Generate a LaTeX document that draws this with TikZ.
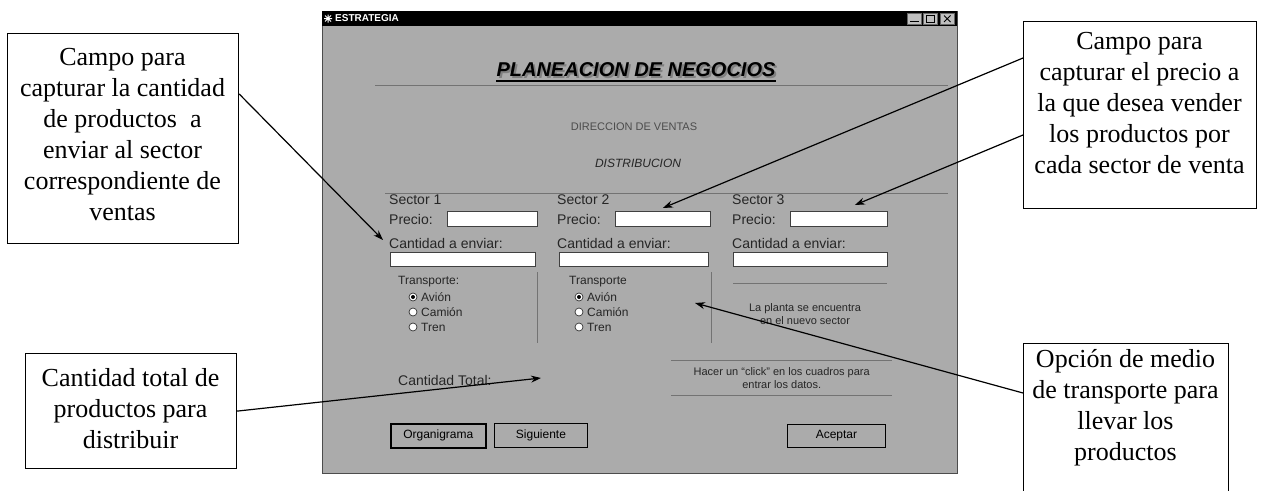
\documentclass[tikz,border=0pt]{standalone}
\usepackage{fontspec}
\setmainfont{Liberation Serif}
\newfontfamily\uifont{Liberation Sans}
\usetikzlibrary{arrows.meta,calc}
\definecolor{dialoggray}{gray}{0.67}
\tikzset{
  callout/.style={draw=black, line width=1.2pt, fill=white, inner sep=0pt, anchor=north west},
  calltext/.style={align=center, font=\fontsize{26}{31}\selectfont, inner sep=0pt},
  pointer/.style={draw=black, line width=1.2pt, -{Stealth[length=10pt,width=7pt]}},
  uitext/.style={font=\uifont\fontsize{14}{16}\selectfont, text=black!85, inner sep=0pt, anchor=west},
  smalltext/.style={font=\uifont\fontsize{11}{13}\selectfont, text=black!85, inner sep=0pt, align=center},
  field/.style={draw=black!75, fill=white, line width=0.8pt, inner sep=0pt, anchor=north west},
  radio/.style={circle, draw=black!80, fill=white, line width=0.7pt, minimum size=8pt, inner sep=0pt},
  uibutton/.style={draw=black, line width=0.9pt, fill=dialoggray, inner sep=0pt, anchor=north west,
    font=\uifont\fontsize{12}{14}\selectfont},
  capbutton/.style={draw=black!60, fill=black!25, line width=0.5pt, inner sep=0pt, anchor=north west,
    minimum width=14pt, minimum height=11pt},
  etched/.style={draw=black!55, line width=0.7pt},
}
\begin{document}
\begin{tikzpicture}[x=1pt,y=-1pt]
\useasboundingbox (0,0) rectangle (1261,490);

% ---------- dialog window ----------
\node[draw=black!70, line width=1pt, fill=dialoggray, minimum width=635pt, minimum height=462pt,
      anchor=north west, inner sep=0pt] (win) at (322,11) {};
\node[fill=black, minimum width=635pt, minimum height=15pt, anchor=north west, inner sep=0pt] (titlebar) at (322,11) {};
\draw[white, line width=1pt] (324,18.5) -- (332,18.5) (328,14.5) -- (328,22.5)
      (325,15.5) -- (331,21.5) (325,21.5) -- (331,15.5);
\node[anchor=west, text=white, font=\uifont\bfseries\fontsize{10}{12}\selectfont, inner sep=0pt] (wintitle) at (335,18.5) {ESTRATEGIA};
\node[capbutton] (bmin) at (907,13) {};
\node[capbutton] (bmax) at (923,13) {};
\node[capbutton] (bclose) at (940,13) {};
\draw[line width=1pt] ($(bmin.south west)+(3,-3)$) -- ($(bmin.south east)+(-3,-3)$);
\draw[line width=0.8pt] ($(bmax.north west)+(3,2.5)$) rectangle ($(bmax.south east)+(-3,-2.5)$);
\draw[line width=1pt] ($(bclose.north west)+(4,2.5)$) -- ($(bclose.south east)+(-4,-2.5)$)
      ($(bclose.south west)+(4,-2.5)$) -- ($(bclose.north east)+(-4,2.5)$);

% heading
\node[font=\uifont\bfseries\itshape\fontsize{20}{22}\selectfont, text=black!50, inner sep=0pt] (headshadow) at (638,72) {PLANEACION DE NEGOCIOS};
\node[font=\uifont\bfseries\itshape\fontsize{20}{22}\selectfont, inner sep=0pt] (heading) at (636,70) {PLANEACION DE NEGOCIOS};
\draw[line width=1.6pt] ($(heading.base west)+(0,4)$) -- ($(heading.base east)+(0,4)$);
\draw[etched] (375,85) -- (948,85);

\node[smalltext, text=black!70] (direccion) at (634,127) {DIRECCION DE VENTAS};
\node[smalltext, font=\uifont\itshape\fontsize{12}{14}\selectfont] (distrib) at (638,163) {DISTRIBUCION};
\draw[etched] (385,193) -- (948,193);

% sector columns
\node[uitext] (s1) at (389,200) {Sector 1};
\node[uitext] (s2) at (557,200) {Sector 2};
\node[uitext] (s3) at (732,200) {Sector 3};
\node[uitext] (pl1) at (389,219) {Precio:};
\node[uitext] (pl2) at (557,219) {Precio:};
\node[uitext] (pl3) at (732,219) {Precio:};
\node[field, minimum width=90pt, minimum height=15pt] (p1) at (447,211) {};
\node[field, minimum width=95pt, minimum height=15pt] (p2) at (615,211) {};
\node[field, minimum width=97pt, minimum height=15pt] (p3) at (790,211) {};
\node[uitext] (c1) at (389,243) {Cantidad a enviar:};
\node[uitext] (c2) at (557,243) {Cantidad a enviar:};
\node[uitext] (c3) at (732,243) {Cantidad a enviar:};
\node[field, minimum width=145pt, minimum height=14pt] (e1) at (390,252) {};
\node[field, minimum width=149pt, minimum height=14pt] (e2) at (559,252) {};
\node[field, minimum width=154pt, minimum height=14pt] (e3) at (733,252) {};

% transport groups
\draw[etched] (537,272) -- (537,343);
\draw[etched] (711,272) -- (711,343);
\draw[etched] (733,283) -- (887,283);
\node[uitext, font=\uifont\fontsize{12}{14}\selectfont] (t1) at (398,282) {Transporte:};
\node[uitext, font=\uifont\fontsize{12}{14}\selectfont] (t2) at (569,282) {Transporte};
\foreach \gx/\g in {413/a, 579/b}{
  \node[radio] (r\g1) at (\gx,297) {};
  \node[radio] (r\g2) at (\gx,312) {};
  \node[radio] (r\g3) at (\gx,327) {};
  \fill[black] (r\g1.center) circle (2pt);
  \node[uitext, font=\uifont\fontsize{12}{14}\selectfont] (la\g1) at (\gx+8,297) {Avión};
  \node[uitext, font=\uifont\fontsize{12}{14}\selectfont] (la\g2) at (\gx+8,312) {Camión};
  \node[uitext, font=\uifont\fontsize{12}{14}\selectfont] (la\g3) at (\gx+8,327) {Tren};
}
\coordinate (transfield) at (695,303);
\node[smalltext] (placa) at (805,314) {La planta se encuentra\\en el nuevo sector};

% totals and hint
\node[uitext] (total) at (398,380) {Cantidad Total:};
\coordinate (totfield) at (541,378);
\node[minimum width=221pt, minimum height=35pt, anchor=north west, inner sep=0pt] (hint) at (671,360) {};
\draw[etched] (hint.north west) -- (hint.north east) (hint.south west) -- (hint.south east);
\node[smalltext] (hinttext) at (hint.center) {Hacer un “click” en los cuadros para\\entrar los datos.};

% buttons
\node[uibutton, line width=1.6pt, minimum width=95pt, minimum height=24pt] (borg) at (390,423) {Organigrama};
\node[uibutton, minimum width=93pt, minimum height=24pt] (bsig) at (494,423) {Siguiente};
\node[uibutton, minimum width=98pt, minimum height=23pt] (bacep) at (787,424) {Aceptar};

% ---------- callouts ----------
\node[callout, minimum width=231pt, minimum height=210pt] (lbox) at (7,33) {};
\node[calltext] (ltext) at (122.5,135) {Campo para\\capturar la cantidad\\de productos\ \ a\\enviar al sector\\correspondiente de\\ventas};

\node[callout, minimum width=233pt, minimum height=187pt] (rbox) at (1023,21) {};
\node[calltext] (rtext) at (1139.5,103) {Campo para\\capturar el precio a\\la que desea vender\\los productos por\\cada sector de venta};

\node[callout, minimum width=211pt, minimum height=115pt] (blbox) at (25,353) {};
\node[calltext] (bltext) at (130.5,409) {Cantidad total de\\productos para\\distribuir};

\node[callout, minimum width=205pt, minimum height=160pt] (brbox) at (1023,343) {};
\node[calltext] (brtext) at (1125.5,408) {Opción de medio\\de transporte para\\llevar los\\productos};

% ---------- connectors ----------
\draw[pointer] ($(lbox.north east)+(0,61)$) -- ($(c1.west)+(-6,-3)$);
\draw[pointer] ($(rbox.north west)+(0,37)$) -- ($(p2.north)+(0,-3)$);
\draw[pointer] ($(rbox.north west)+(0,114)$) -- ($(p3.north)+(16,-6)$);
\draw[pointer] (blbox.east) -- (totfield);
\draw[pointer] ($(brbox.north west)+(0,50)$) -- (transfield);
\end{tikzpicture}
\end{document}
